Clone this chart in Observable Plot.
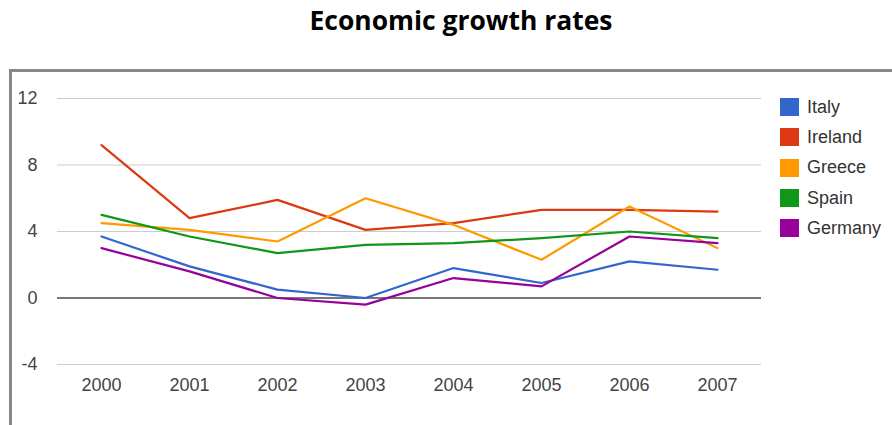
<!DOCTYPE html>
<html>
<head>
<meta charset="utf-8">
<script src="https://cdn.jsdelivr.net/npm/d3@7"></script>
<script src="https://cdn.jsdelivr.net/npm/@observablehq/plot@0.6"></script>
<style>
  html, body { margin: 0; padding: 0; background: #fff; }
  #wrap { position: relative; width: 892px; height: 425px; overflow: hidden; background: #fff; }
  #title { position: absolute; left: 0; top: 0; }
  #frame { position: absolute; left: 9px; top: 69px; width: 1000px; height: 500px;
           border-top: 3px solid #888; border-left: 3px solid #888; box-sizing: border-box; }
  #chart { position: absolute; left: 0; top: 70px; }
  #legend { position: absolute; left: 780px; top: 92px; font-family: Arial, "Liberation Sans", sans-serif;
            font-size: 18px; color: #333; }
  .row { height: 30.3px; display: flex; align-items: center; }
  .sw { width: 19px; height: 18px; margin-right: 8px; }
</style>
</head>
<body>
<div id="wrap">
  <div id="frame"></div>
  <svg id="title" width="892" height="60"></svg>
  <div id="chart"></div>
  <div id="legend"></div>
</div>
<script>
const titleText = "Economic growth rates";
const years = [2000, 2001, 2002, 2003, 2004, 2005, 2006, 2007];
const countries = ["Italy", "Ireland", "Greece", "Spain", "Germany"];
const colors = ["#3366cc", "#dc3912", "#ff9900", "#109618", "#990099"];
const italy   = [3.7, 1.9, 0.5, 0.0, 1.8, 0.9, 2.2, 1.7];
const ireland = [9.2, 4.8, 5.9, 4.1, 4.5, 5.3, 5.3, 5.2];
const greece  = [4.5, 4.1, 3.4, 6.0, 4.4, 2.3, 5.5, 3.0];
const spain   = [5.0, 3.7, 2.7, 3.2, 3.3, 3.6, 4.0, 3.6];
const germany = [3.0, 1.6, 0.0, -0.4, 1.2, 0.7, 3.7, 3.3];
const yTicks = [-4, 0, 4, 8, 12];

const series = [italy, ireland, greece, spain, germany];
const data = [];
countries.forEach((c, i) => years.forEach((yr, j) => data.push({country: c, year: yr, value: series[i][j]})));

// Title
const tsvg = d3.select("#title");
const t = tsvg.append("text")
  .attr("x", 461).attr("y", 30)
  .attr("text-anchor", "middle")
  .attr("font-family", "'Open Sans', sans-serif")
  .attr("font-weight", "bold")
  .attr("fill", "#000")
  .attr("font-size", 22)
  .text(titleText);

const chart = Plot.plot({
  width: 892,
  height: 355,
  marginTop: 28,
  marginBottom: 61,
  marginLeft: 57,
  marginRight: 131,
  style: { fontFamily: "Arial, 'Liberation Sans', sans-serif", fontSize: "18px", color: "#444", background: "transparent" },
  x: { type: "point", domain: years, padding: 0.5, tickSize: 0, tickPadding: 14, label: null, tickFormat: d => String(d) },
  y: { domain: [-4, 12], ticks: yTicks, tickSize: 0, tickPadding: 20, label: null, tickFormat: d => String(d) },
  color: { domain: countries, range: colors },
  marks: [
    Plot.ruleY(yTicks.filter(d => d !== 0), { stroke: "#cccccc", strokeWidth: 1 }),
    Plot.ruleY([0], { stroke: "#777777", strokeWidth: 2 }),
    Plot.line(data, { x: "year", y: "value", stroke: "country", strokeWidth: 2.2 })
  ]
});
document.getElementById("chart").appendChild(chart);

// Legend
const lg = d3.select("#legend");
countries.forEach((c, i) => {
  const r = lg.append("div").attr("class", "row");
  r.append("div").attr("class", "sw").style("background", colors[i]);
  r.append("span").text(c);
});

// fit title width
requestAnimationFrame(() => {
  const w = t.node().getComputedTextLength();
  if (w > 0) t.attr("font-size", 22 * 303 / w);
});
</script>
</body>
</html>
